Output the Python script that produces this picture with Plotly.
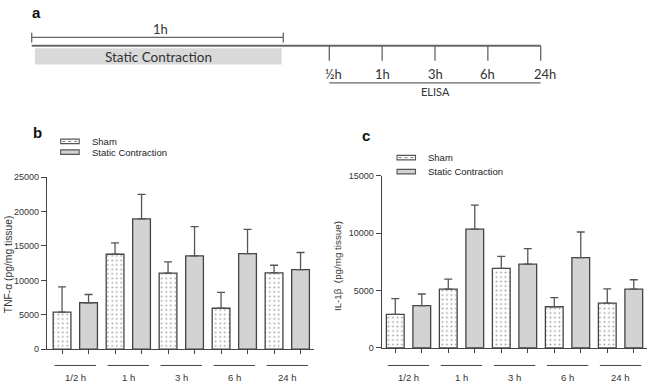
import plotly.graph_objects as go

W, H = 649, 388

# ---------------- data ----------------
groups = ["1/2 h", "1 h", "3 h", "6 h", "24 h"]
series_names = ["Sham", "Static Contraction"]

tnf_sham = [5400, 13800, 11050, 5950, 11100]
tnf_sham_err = [3650, 1650, 1650, 2300, 1100]
tnf_sc = [6750, 18950, 13550, 13900, 11550]
tnf_sc_err = [1200, 3550, 4250, 3500, 2500]

il_sham = [2920, 5120, 6930, 3590, 3900]
il_sham_err = [1380, 880, 1050, 800, 1250]
il_sc = [3680, 10360, 7300, 7870, 5120]
il_sc_err = [1020, 2090, 1360, 2230, 820]

tnf_ticks = [0, 5000, 10000, 15000, 20000, 25000]
il_ticks = [0, 5000, 10000, 15000]

timeline_labels = ["½h", "1h", "3h", "6h", "24h"]

# ---------------- helpers ----------------
def px(x):
    return x / W

def py(y):
    return 1 - y / H

AX = "#444444"
TXT = "#333333"
FONT = "Liberation Sans, Arial, sans-serif"
TLFONT = "Lato, 'Open Sans', sans-serif"

fig = go.Figure()
xs = list(range(len(groups)))


def add_panel(xa, ya, sham, sham_err, sc, sc_err):
    fig.add_trace(go.Bar(
        x=xs, y=sham, name=series_names[0], xaxis=xa, yaxis=ya,
        offsetgroup="a" + xa,
        marker=dict(color="white", line=dict(color=AX, width=1.3),
                    pattern=dict(shape=".", size=4.5, solidity=0.14,
                                 fgcolor="#444444", bgcolor="white")),
        error_y=dict(type="data", array=sham_err, arrayminus=[0] * len(sham_err),
                     symmetric=False, color="#555555", thickness=1.3, width=4),
        showlegend=False))
    fig.add_trace(go.Bar(
        x=xs, y=sc, name=series_names[1], xaxis=xa, yaxis=ya,
        offsetgroup="b" + xa,
        marker=dict(color="#d3d3d3", line=dict(color=AX, width=1.3)),
        error_y=dict(type="data", array=sc_err, arrayminus=[0] * len(sc_err),
                     symmetric=False, color="#555555", thickness=1.3, width=4),
        showlegend=False))


add_panel("x", "y", tnf_sham, tnf_sham_err, tnf_sc, tnf_sc_err)
add_panel("x2", "y2", il_sham, il_sham_err, il_sc, il_sc_err)

bar_ticks = [i + d for i in xs for d in (-0.25, 0.25)]

xcommon = dict(showline=True, linecolor=AX, linewidth=1.2, ticks="outside",
               ticklen=4, tickcolor=AX, tickwidth=1.2, tickvals=bar_ticks,
               showticklabels=False, showgrid=False, zeroline=False)
ycommon = dict(showline=True, linecolor=AX, linewidth=1.2, ticks="outside",
               ticklen=5, tickcolor=AX, tickwidth=1.2, showgrid=False,
               zeroline=False, tickformat="d",
               tickfont=dict(family=FONT, size=9, color=TXT))

fig.update_layout(
    width=W, height=H,
    margin=dict(l=0, r=0, t=0, b=0),
    paper_bgcolor="white", plot_bgcolor="white",
    barmode="group", bargap=0.0, bargroupgap=0.33,
    xaxis=dict(domain=[px(47), px(314)], range=[-0.534, 4.504], anchor="y", **xcommon),
    yaxis=dict(domain=[py(353.3), py(176.7)], range=[0, 25000], anchor="x",
               tickvals=tnf_ticks, **ycommon),
    xaxis2=dict(domain=[px(381.7), px(646.7)], range=[-0.506, 4.494], anchor="y2", **xcommon),
    yaxis2=dict(domain=[py(352), py(175.3)], range=[0, 15000], anchor="x2",
                tickvals=il_ticks, **ycommon),
    showlegend=False,
)

shapes = []
annots = []


def note(x, y, text, size, family=FONT, color=TXT, xanchor="center", angle=0, xref="paper"):
    annots.append(dict(xref=xref, yref="paper", x=(px(x) if xref == "paper" else x), y=py(y),
                       text=text, showarrow=False, xanchor=xanchor, yanchor="middle",
                       textangle=angle, font=dict(family=family, size=size, color=color)))


# group lines and labels under each bar panel
for xa in ("x", "x2"):
    for i, g in enumerate(groups):
        shapes.append(dict(type="line", xref=xa, yref="paper",
                           x0=i - 0.39, x1=i + 0.39, y0=py(370), y1=py(370),
                           line=dict(color=AX, width=1)))
        note(i, 382, g, 9.5, xref=xa)

# axis titles
note(8, 266, "TNF-α (pg/mg tissue)", 10.3, angle=-90)
note(337, 268, "IL-1β  (pg/mg tissue)", 9.8, angle=-90)

# panel letters
for letter, x, y in (("a", 36, 8), ("b", 37, 131), ("c", 365.5, 134)):
    note(x, y, "<b>%s</b>" % letter, 15, color="#111111")


# legends (manual)
def legend(x0, y_sham, y_sc, xt):
    shapes.append(dict(type="rect", xref="paper", yref="paper",
                       x0=px(x0), x1=px(x0 + 18.5), y0=py(y_sham + 2.3), y1=py(y_sham - 2.3),
                       fillcolor="white", line=dict(color="#555555", width=1.1)))
    shapes.append(dict(type="line", xref="paper", yref="paper",
                       x0=px(x0 + 1.5), x1=px(x0 + 17), y0=py(y_sham), y1=py(y_sham),
                       line=dict(color="#777777", width=1, dash="dot")))
    shapes.append(dict(type="rect", xref="paper", yref="paper",
                       x0=px(x0), x1=px(x0 + 18.5), y0=py(y_sc + 2.3), y1=py(y_sc - 2.3),
                       fillcolor="#d3d3d3", line=dict(color="#555555", width=1.1)))
    for name, yy in zip(series_names, (y_sham, y_sc)):
        note(xt, yy, name, 9.5, color="#222222", xanchor="left")


legend(60.7, 140, 151, 89.5)
legend(397, 156.7, 171, 425.5)

# ---------------- panel a: timeline ----------------
LC = "#666666"
shapes.append(dict(type="line", xref="paper", yref="paper", x0=px(31.7), x1=px(283.3),
                   y0=py(33.3), y1=py(33.3), line=dict(color=LC, width=1.3)))
for xx in (31.7, 283.3):
    shapes.append(dict(type="line", xref="paper", yref="paper", x0=px(xx), x1=px(xx),
                       y0=py(28.5), y1=py(38.5), line=dict(color=LC, width=1.3)))
note(160, 25, "1h", 13, family=TLFONT)
shapes.append(dict(type="line", xref="paper", yref="paper", x0=px(31.7), x1=px(540.7),
                   y0=py(41.7), y1=py(41.7), line=dict(color=LC, width=2)))
shapes.append(dict(type="rect", xref="paper", yref="paper", x0=px(35), x1=px(281.7),
                   y0=py(61), y1=py(44.5), fillcolor="#d9d9d9", line=dict(width=0)))
note(158, 53, "Static Contraction", 13.5, family=TLFONT)
t0, t1 = 329.3, 540.7
step = (t1 - t0) / (len(timeline_labels) - 1)
for i, lab in enumerate(timeline_labels):
    xx = t0 + i * step
    shapes.append(dict(type="line", xref="paper", yref="paper", x0=px(xx), x1=px(xx),
                       y0=py(41.7), y1=py(57.3), line=dict(color=LC, width=1.3)))
    off = 4 if i in (0, len(timeline_labels) - 1) else 0
    note(xx + off, 71, lab, 13, family=TLFONT)
shapes.append(dict(type="line", xref="paper", yref="paper", x0=px(t0), x1=px(t1),
                   y0=py(80), y1=py(80), line=dict(color=LC, width=1.3)))
note(435, 88.5, "ELISA", 11, family=TLFONT)

fig.update_layout(shapes=shapes, annotations=annots)

fig.write_html("out.html", config={"displayModeBar": False},
               post_script="document.body.style.margin='0';")
